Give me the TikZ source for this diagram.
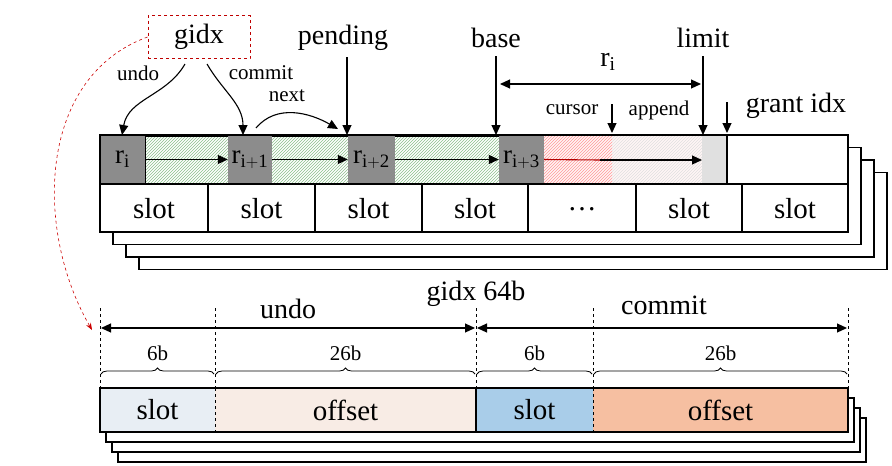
\documentclass[tikz,border=0pt]{standalone}
\usepackage{fontspec}
\setmainfont{Liberation Serif}
\usetikzlibrary{patterns,decorations.pathreplacing,arrows.meta}
\definecolor{cs1}{HTML}{E8EEF4}
\definecolor{co1}{HTML}{F8ECE5}
\definecolor{cs2}{HTML}{A9CDE9}
\definecolor{co2}{HTML}{F6BFA1}
\begin{document}
\begin{tikzpicture}[x=1pt,y=-1pt,
  lbl/.style={font=\fontsize{28}{32}\selectfont, inner sep=1pt},
  sl/.style={font=\fontsize{29}{32}\selectfont, inner sep=1pt},
  sm/.style={font=\fontsize{21}{24}\selectfont, inner sep=1pt},
  rr/.style={fill=black!45, inner sep=0, minimum height=47pt, font=\fontsize{27}{30}\selectfont},
  ar/.style={-{Triangle[length=10pt,width=9pt]}, line width=1.1pt},
  dar/.style={{Triangle[length=10pt,width=9pt]}-{Triangle[length=10pt,width=9pt]}, line width=1.1pt},
  layer/.style={draw=black, line width=1.6pt, fill=white},
  vd/.style={dashed, line width=0.7pt}]
\useasboundingbox (0,0) rectangle (892,466);
% ---------- top stack
\foreach \i in {3,2,1} \draw[layer] (100+13*\i,135+12.5*\i) rectangle (848+13*\i,232+12.5*\i);
\draw[layer] (100,135) rectangle (848,232);
\draw[pattern=north east lines, pattern color=green!45!black!45] (145,136) rectangle (499,183);
\fill[red!4] (544,136) rectangle (702,183);
\draw[draw=none,pattern=north east lines, pattern color=red!40] (544,136) rectangle (612,183);
\draw[draw=none,pattern=north east lines, pattern color=black!12] (612,136) rectangle (702,183);
\fill[black!12] (702,136) rectangle (726,183);
\node[rr, minimum width=45pt] (r0) at (122.5,159.5) {r$_\mathrm{i}$};
\node[rr, minimum width=44pt] (r1) at (250,159.5) {r$_\mathrm{i+1}$};
\node[rr, minimum width=47pt] (r2) at (371.5,159.5) {r$_\mathrm{i+2}$};
\node[rr, minimum width=45pt] (r3) at (521.5,159.5) {r$_\mathrm{i+3}$};
\coordinate (lim) at (702,160);
\draw[line width=1.2pt] (727,136) -- (727,183);
\draw[line width=1.6pt] (100,135) rectangle (848,232);
\draw[line width=1.6pt] (100,184) -- (848,184);
\draw[ar] (r0.east) -- (r1.west);
\draw[ar] (r1.east) -- (r2.west);
\draw[ar] (r2.east) -- (r3.west);
\draw[red!70!black, line width=1.1pt] (r3.east) -- (600,160);
\draw[ar] (600,160) -- (lim);
\foreach \x/\t [count=\k] in {154/slot,261.5/slot,368.5/slot,475/slot,582/\dots,689/slot,795/slot}
  \node[sl] (s\k) at (\x,209) {\t};
\foreach \x in {208,315,422,528,636,742} \draw[line width=1.6pt] (\x,184) -- (\x,232);
% labels
\node[lbl, draw=red!75!black, dashed, line width=1pt, minimum width=102pt, minimum height=43pt] (g) at (199,37) {gidx};
\node[lbl] (pend) at (343,38) {pending};
\node[lbl] (base) at (496,38) {base};
\node[lbl] (limit) at (703,38) {limit};
\node[lbl] (gi) at (796,106) {grant idx};
\node[sm] (undo) at (138,73) {undo};
\node[sm] (commit) at (261,73) {commit};
\node[sm] (next) at (287,96) {next};
\node[sm] (cur) at (572,110) {cursor};
\node[sm] (app) at (659,110) {append};
\node[lbl] (ri) at (608,62) {r$_\mathrm{i}$};
\draw[ar] (185,64) to[out=240,in=80] (122,135);
\draw[ar] (207,64) to[out=-60,in=90] (243,135);
\draw[ar] (256,128) to[out=50,in=150] (338,129);
\draw[ar] (347,57) -- (347,135);
\draw[ar] (496,56) -- (496,135);
\draw[ar] (703,56) -- (703,135);
\draw[ar] (612,104) -- (612,133);
\draw[ar] (727,102) -- (727,133);
\draw[dar] (500,84) -- (701,84);
\draw[red!80!black, dashed, line width=0.6pt, -{Stealth[length=7pt]}] (g.west) to[out=200,in=120] (92,330);
% ---------- bottom stack
\foreach \i in {3,2,1} \draw[layer, line width=1.4pt] (100+6*\i,388+10*\i) rectangle (848+6*\i,432+10*\i);
\fill[cs1] (100,388) rectangle (215,432);
\fill[co1] (215,388) rectangle (476,432);
\fill[cs2] (476,388) rectangle (593,432);
\fill[co2] (593,388) rectangle (848,432);
\draw[line width=1.4pt] (100,388) rectangle (848,432);
\draw[line width=2.4pt] (100,388) -- (848,388);
\draw[line width=1.4pt] (476,388) -- (476,432);
\draw[vd] (215,388) -- (215,432);
\draw[vd] (593,388) -- (593,432);
\foreach \x in {100,215,476,593,848} \draw[vd] (\x,308) -- (\x,388);
\node[sl] (b1) at (157.5,410) {slot};
\node[sl] (b2) at (345.5,410) {offset};
\node[sl] (b3) at (534.5,410) {slot};
\node[sl] (b4) at (720.5,410) {offset};
\node[lbl] (u2) at (288,309) {undo};
\node[lbl] (c2) at (664,305) {commit};
\node[lbl] (g64) at (476,294) {gidx 64b};
\draw[dar] (101,328) -- (475,328);
\draw[dar] (477,328) -- (847,328);
\foreach \a/\b/\t in {101/214/6b,216/475/26b,477/592/6b,594/847/26b}{
  \draw[decorate, decoration={brace, amplitude=6pt}, line width=0.8pt] (\a,374) -- (\b,374);
  \node[sm] at ({(\a+\b)/2},353) {\t};}
\end{tikzpicture}
\end{document}
